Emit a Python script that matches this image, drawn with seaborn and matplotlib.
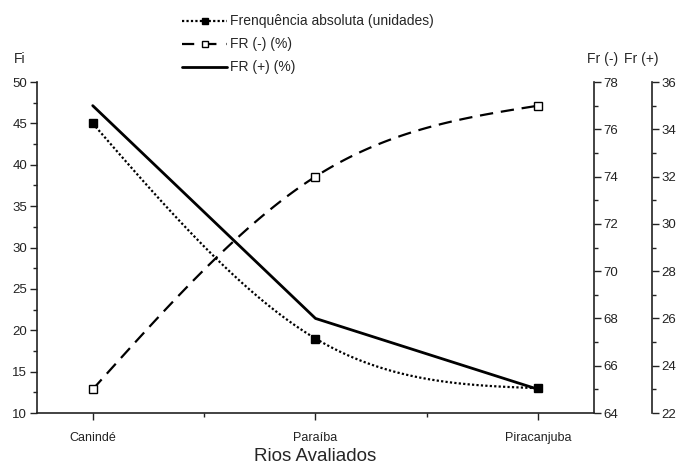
import matplotlib
matplotlib.use("Agg")
import matplotlib.pyplot as plt
import numpy as np
import seaborn as sns
from matplotlib.lines import Line2D
from matplotlib.ticker import MultipleLocator

# data
rivers = ["Canindé", "Paraíba", "Piracanjuba"]
fi_abs = [45, 19, 13]          # Frenquência absoluta (unidades)
fr_minus = [65, 74, 77]        # FR (-) (%)
fr_plus = [35, 26, 23]         # FR (+) (%)

sns.set_style("ticks")
plt.rcParams["font.family"] = ["Liberation Sans", "DejaVu Sans"]

x = np.arange(len(rivers))


def smooth(values, n=60):
    # natural cubic spline through the points (line rendering only)
    y = np.asarray(values, dtype=float)
    k = len(y)
    A = np.zeros((k, k))
    r = np.zeros(k)
    A[0, 0] = A[-1, -1] = 1
    for i in range(1, k - 1):
        A[i, i - 1], A[i, i], A[i, i + 1] = 1, 4, 1
        r[i] = 6 * (y[i - 1] - 2 * y[i] + y[i + 1])
    M = np.linalg.solve(A, r)
    xs, ys = [], []
    for i in range(k - 1):
        t = np.linspace(0, 1, n)
        seg = ((1 - t) * y[i] + t * y[i + 1]
               + ((1 - t) ** 3 - (1 - t)) * M[i] / 6
               + (t ** 3 - t) * M[i + 1] / 6)
        xs.append(i + t)
        ys.append(seg)
    return np.concatenate(xs), np.concatenate(ys)


fig = plt.figure(figsize=(6.96, 4.67), dpi=100)
ax = fig.add_axes([0.0532, 0.1156, 0.8002, 0.7088])
ax2 = ax.twinx()
ax3 = ax.twinx()
ax3.spines["right"].set_position(("axes", 1.104))

# Fi (left axis): dotted smooth line + filled squares
xs, ys = smooth(fi_abs)
sns.lineplot(x=xs, y=ys, ax=ax, color="black", sort=False,
             linestyle=(0, (1, 1)), linewidth=1.6)
ax.plot(x, fi_abs, linestyle="none", marker="s", markersize=6,
        color="black")

# FR(-) (first right axis): dashed smooth line + open squares
xs, ys = smooth(fr_minus)
sns.lineplot(x=xs, y=ys, ax=ax2, color="black", sort=False,
             linestyle=(0, (6, 3.5)), linewidth=1.6)
ax2.plot(x, fr_minus, linestyle="none", marker="s", markersize=6,
         markerfacecolor="white", markeredgecolor="black",
         markeredgewidth=1.0)

# FR(+) (second right axis): solid straight line
sns.lineplot(x=x, y=fr_plus, ax=ax3, color="black", linewidth=2.0)

ax.set_xlim(-0.25, 2.25)
ax.set_ylim(10, 50)
ax2.set_ylim(64, 78)
ax3.set_ylim(22, 36)

ax.set_xticks(x)
ax.set_xticklabels(rivers)
ax.xaxis.set_minor_locator(MultipleLocator(0.5))
ax.yaxis.set_major_locator(MultipleLocator(5))
ax.yaxis.set_minor_locator(MultipleLocator(2.5))
for a in (ax2, ax3):
    a.yaxis.set_major_locator(MultipleLocator(2))
    a.yaxis.set_minor_locator(MultipleLocator(1))

for a in (ax, ax2, ax3):
    a.tick_params(which="major", direction="out", length=5, width=1,
                  labelsize=9.5, colors="#222222", pad=2)
    a.tick_params(which="minor", direction="out", length=3, width=1,
                  colors="#222222")
    a.spines["top"].set_visible(False)
    for s in a.spines.values():
        s.set_linewidth(1.2)
        s.set_color("#222222")
ax.tick_params(axis="x", which="major", labelsize=9, pad=9)
ax.spines["right"].set_visible(False)
ax2.spines["left"].set_visible(False)
ax2.spines["bottom"].set_visible(False)
ax3.spines["left"].set_visible(False)
ax3.spines["bottom"].set_visible(False)

ax.set_xlabel("Rios Avaliados", fontsize=13.5, va="top")
ax.xaxis.set_label_coords(0.5, -0.107)
ax.set_ylabel("")
ax2.set_ylabel("")
ax3.set_ylabel("")
fig.text(0.029, 0.865, "Fi", fontsize=10, ha="center")
fig.text(0.866, 0.865, "Fr (-)", fontsize=10, ha="center")
fig.text(0.922, 0.865, "Fr (+)", fontsize=10, ha="center")

handles = [
    Line2D([], [], color="black", linestyle=(0, (1, 1)), linewidth=1.6,
           marker="s", markersize=5),
    Line2D([], [], color="black", linestyle=(0, (5.5, 4.5)), linewidth=1.6,
           marker="s", markersize=5, markerfacecolor="white"),
    Line2D([], [], color="black", linewidth=2.0),
]
labels = ["Frenquência absoluta (unidades)", "FR (-) (%)", "FR (+) (%)"]
fig.legend(handles, labels, loc="upper left", bbox_to_anchor=(0.25, 0.987),
           frameon=False, fontsize=10, handlelength=3.2, handletextpad=0.2,
           labelspacing=0.65, borderaxespad=0.2)

fig.savefig("out.png", dpi=100)
